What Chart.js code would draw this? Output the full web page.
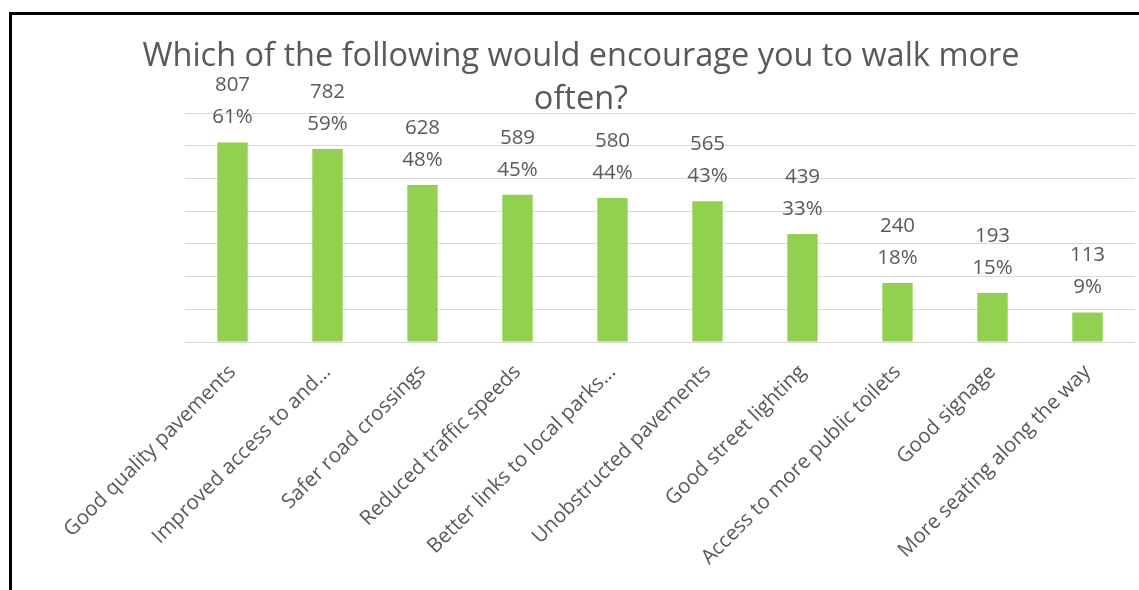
<!DOCTYPE html>
<html>
<head>
<meta charset="utf-8">
<script src="https://cdn.jsdelivr.net/npm/chart.js@4.4.1/dist/chart.umd.min.js"></script>
<style>
  html, body { margin: 0; padding: 0; background: #fff; }
  #wrap { position: relative; width: 1139px; height: 590px; }
  #frame { position: absolute; left: 9px; top: 12px; right: -10px; bottom: -10px;
           border-left: 3px solid #000; border-top: 3px solid #000; pointer-events: none; }
</style>
</head>
<body>
<div id="wrap">
  <canvas id="myChart" width="1139" height="590"></canvas>
  <div id="frame"></div>
</div>
<script>
// values
var categories = [
  'Good quality pavements',
  'Improved access to and...',
  'Safer road crossings',
  'Reduced traffic speeds',
  'Better links to local parks...',
  'Unobstructed pavements',
  'Good street lighting',
  'Access to more public toilets',
  'Good signage',
  'More seating along the way'
];
var counts = [807, 782, 628, 589, 580, 565, 439, 240, 193, 113];
var percents = [61, 59, 48, 45, 44, 43, 33, 18, 15, 9];
var titleLines = ['Which of the following would encourage you to walk more', 'often?'];

var textGrey = '#595959';
var fontFamily = "'Open Sans', 'Noto Sans', sans-serif";

// count + percent above each bar
var barLabels = {
  id: 'barLabels',
  afterDatasetsDraw: function(chart) {
    var ctx = chart.ctx;
    var meta = chart.getDatasetMeta(0);
    ctx.save();
    ctx.fillStyle = textGrey;
    ctx.font = '20.5px ' + fontFamily;
    ctx.textAlign = 'center';
    ctx.textBaseline = 'middle';
    meta.data.forEach(function(bar, i) {
      ctx.fillText(percents[i] + '%', bar.x, bar.y - 25);
      ctx.fillText(String(counts[i]), bar.x, bar.y - 57);
    });
    ctx.restore();
  }
};

var titleDraw = {
  id: 'titleDraw',
  afterDraw: function(chart) {
    var ctx = chart.ctx;
    ctx.save();
    ctx.fillStyle = textGrey;
    ctx.font = '32.5px ' + fontFamily;
    ctx.textAlign = 'center';
    ctx.textBaseline = 'middle';
    ctx.fillText(titleLines[0], 581, 57);
    ctx.fillText(titleLines[1], 581, 100);
    ctx.restore();
  }
};

var ctx = document.getElementById('myChart').getContext('2d');
var myChart = new Chart(ctx, {
  type: 'bar',
  data: {
    labels: categories,
    datasets: [{
      data: percents,
      backgroundColor: '#92D050',
      borderWidth: 0,
      barPercentage: 0.32,
      categoryPercentage: 1
    }]
  },
  options: {
    responsive: false,
    animation: false,
    layout: { padding: { left: 185, right: 4, top: 113, bottom: 0 } },
    plugins: {
      legend: { display: false },
      tooltip: { enabled: false },
      title: { display: false }
    },
    scales: {
      x: {
        grid: { display: false },
        border: { display: false },
        ticks: {
          color: textGrey,
          font: { family: fontFamily, size: 20.5 },
          maxRotation: 45,
          minRotation: 45,
          autoSkip: false,
          padding: 10
        },
        afterFit: function(s) { s.height = 248; s.paddingLeft = 0; s.paddingRight = 0; }
      },
      y: {
        min: 0,
        max: 70,
        ticks: { display: false, stepSize: 10 },
        grid: { color: '#d9d9d9', lineWidth: 1, drawTicks: false },
        border: { display: false },
        afterFit: function(s) { s.width = 0; }
      }
    }
  },
  plugins: [barLabels, titleDraw]
});
</script>
</body>
</html>
